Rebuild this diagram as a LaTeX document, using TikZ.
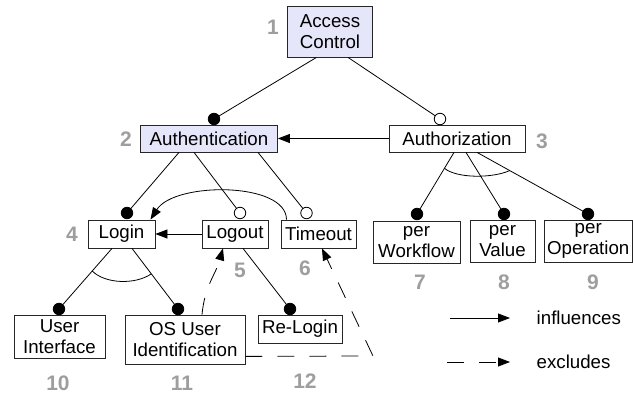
\documentclass[tikz,border=0pt]{standalone}
\usepackage{fontspec}
\setmainfont{Liberation Sans}
\usetikzlibrary{arrows.meta,calc}
\definecolor{featfill}{RGB}{230,230,250}
\definecolor{numgray}{RGB}{158,158,158}
\begin{document}
\begin{tikzpicture}[x=1pt,y=-1pt,
  feat/.style={draw=black!85, line width=0.8pt, rectangle, inner sep=0pt, align=center,
    font=\fontsize{18.7}{21}\selectfont},
  core/.style={feat, fill=featfill},
  num/.style={text=numgray, inner sep=0pt, font=\fontsize{21}{21}\selectfont\bfseries},
  link/.style={line width=0.8pt},
  mand/.style={circle, fill=black, draw=black, line width=0.8pt, inner sep=0pt, minimum size=11.5pt},
  opt/.style={circle, fill=white, draw=black, line width=0.8pt, inner sep=0pt, minimum size=11.5pt},
  infl/.style={link, -{Triangle[length=12pt,width=9pt]}},
  excl/.style={infl, dash pattern=on 17pt off 15pt},
  legtext/.style={anchor=west, inner sep=0pt, font=\fontsize{18.7}{21}\selectfont},
]
\useasboundingbox (0,0) rectangle (633,396);

% feature boxes
\node[core, minimum width=85pt, minimum height=51pt] (ac) at (330,31.5) {Access\\Control};
\node[core, minimum width=137pt, minimum height=27pt] (authn) at (209,138.5) {Authentication};
\node[feat, minimum width=136pt, minimum height=27pt] (authz) at (457,138.5) {Authorization};
\node[feat, minimum width=67pt, minimum height=28pt] (login) at (121.5,234) {Login};
\node[feat, minimum width=66pt, minimum height=28pt] (logout) at (235,234) {Logout};
\node[feat, minimum width=75pt, minimum height=28pt] (timeout) at (318.5,234) {Timeout};
\node[feat, minimum width=87pt, minimum height=42pt] (wf) at (416.5,242) {per\\Workflow};
\node[feat, minimum width=65pt, minimum height=42pt] (val) at (502.5,241) {per\\Value};
\node[feat, minimum width=88pt, minimum height=42pt] (op) at (588.25,241) {per\\Operation};
\node[feat, minimum width=91pt, minimum height=43pt] (ui) at (59.5,336.5) {User\\Interface};
\node[feat, minimum width=120pt, minimum height=49pt] (os) at (185,339.5) {OS User\\Identification};
\node[feat, minimum width=84pt, minimum height=28pt] (re) at (300,329) {Re-Login};

% feature numbers
\node[num] (n1) at (273,27.5) {1};
\node[num] (n2) at (126,139.5) {2};
\node[num] (n3) at (542,141) {3};
\node[num] (n4) at (72,234) {4};
\node[num] (n5) at (240,270) {5};
\node[num] (n6) at (305,268) {6};
\node[num] (n7) at (420,282) {7};
\node[num] (n8) at (504,282) {8};
\node[num] (n9) at (593,282) {9};
\node[num] (n10) at (58,383) {10};
\node[num] (n11) at (182,383) {11};
\node[num] (n12) at (305,381) {12};

% attachment points above the child features
\coordinate (pAuthn) at (214,119);
\coordinate (pAuthz) at (440,119);
\coordinate (pLogin) at (127,213);
\coordinate (pLogout) at (240,213);
\coordinate (pTimeout) at (306.5,213);
\coordinate (pWF) at (417,214);
\coordinate (pVal) at (504,214);
\coordinate (pOp) at (588,214);
\coordinate (pUI) at (59,309);
\coordinate (pOS) at (178,309);
\coordinate (pRe) at (290,309);

% decomposition edges
\draw[link] ($(ac.south)+(-13.5,0)$) -- (pAuthn);
\draw[link] ($(ac.south)+(18,0)$) -- (pAuthz);
\draw[link] ($(authn.south)+(-30,0)$) -- (pLogin);
\draw[link] ($(authn.south)+(-15,0)$) -- (pLogout);
\draw[link] ($(authn.south)+(49,0)$) -- (pTimeout);
\coordinate (zL) at ($(authz.south)+(-3,0)$);
\coordinate (zR) at ($(authz.south)+(20,0)$);
\draw[link] (zL) -- (pWF);
\draw[link] ($(authz.south)+(9,0)$) -- (pVal);
\draw[link] (zR) -- (pOp);
\coordinate (gL) at ($(login.south)+(-9.5,0)$);
\coordinate (gR) at ($(login.south)+(10.5,0)$);
\draw[link] (gL) -- (pUI);
\draw[link] (gR) -- (pOS);
\draw[link] ($(logout.south)+(8,0)$) -- (pRe);

% group arcs
\draw[link] ($(zL)!0.258!(pWF)$) .. controls +(12,10) and +(-18,8) .. ($(zR)!0.295!(pOp)$);
\draw[link] ($(gL)!0.373!(pUI)$) .. controls +(13,13) and +(-16,11) .. ($(gR)!0.42!(pOS)$);

% mandatory / optional markers
\node[mand] (dAuthn) at (pAuthn) {};
\node[opt] (dAuthz) at (pAuthz) {};
\node[mand] (dLogin) at (pLogin) {};
\node[opt] (dLogout) at (pLogout) {};
\node[opt] (dTimeout) at (pTimeout) {};
\node[mand] (dWF) at (pWF) {};
\node[mand] (dVal) at (pVal) {};
\node[mand] (dOp) at (pOp) {};
\node[mand] (dUI) at (pUI) {};
\node[mand] (dOS) at (pOS) {};
\node[mand] (dRe) at (pRe) {};

% influences
\draw[infl] (authz) -- (authn);
\draw[infl] (logout) -- (login);
\coordinate (tmA) at ($(timeout.north)+(-32,0)$);
\coordinate (lgA) at ($(login.north)+(29,0)$);
\draw[infl] (tmA) .. controls +(0,-38) and +(24,-38) .. (lgA);

% excludes
\coordinate (osA) at ($(os.north)+(17,0)$);
\coordinate (loB) at ($(logout.south)+(-12,0)$);
\draw[excl] (osA) .. controls +(3,-30) and +(-8,28) .. (loB);
\coordinate (osB) at ($(os.south east)+(0,-8)$);
\coordinate (xc) at (373,356);
\coordinate (tmB) at ($(timeout.south)+(3.5,0)$);
\draw[excl] (osB) -- (xc) -- (tmB);

% legend
\coordinate (li1) at (450,318);
\coordinate (li2) at (510,318);
\draw[infl] (li1) -- (li2);
\node[legtext] (lInfl) at (536.5,318) {influences};
\coordinate (le1) at (447,362);
\coordinate (le2) at (510,362);
\draw[excl] (le1) -- (le2);
\node[legtext] (lExcl) at (536.5,362) {excludes};
\end{tikzpicture}
\end{document}
